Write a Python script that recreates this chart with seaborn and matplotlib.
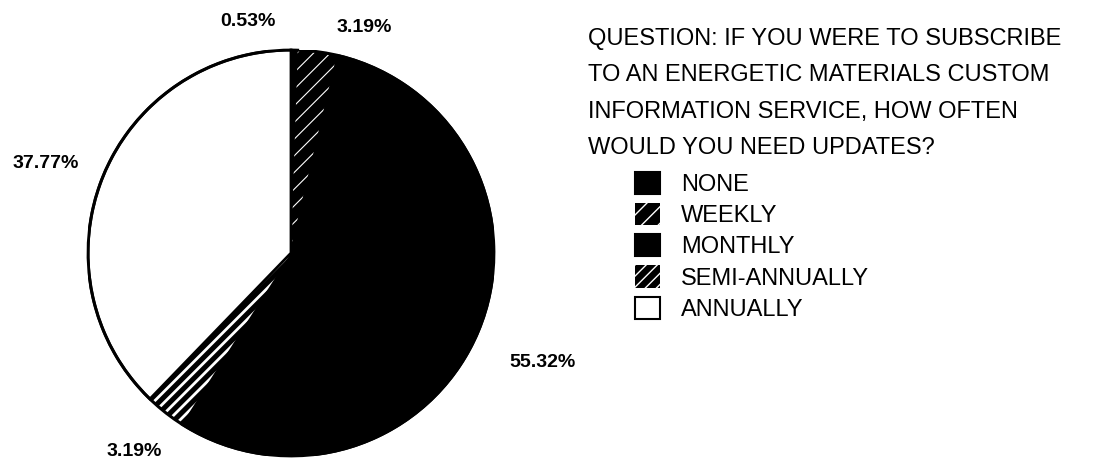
import matplotlib
matplotlib.use("Agg")
import matplotlib.pyplot as plt
import seaborn as sns
import numpy as np
from matplotlib.patches import Patch

sns.set_theme(style="white")
plt.rcParams['font.family'] = ['Liberation Sans', 'DejaVu Sans']
plt.rcParams['hatch.linewidth'] = 1.0
plt.rcParams['text.color'] = 'black'

categories = ["NONE", "WEEKLY", "MONTHLY", "SEMI-ANNUALLY", "ANNUALLY"]
values = [0.53, 3.19, 55.32, 3.19, 37.77]
pct_labels = ["0.53%", "3.19%", "55.32%", "3.19%", "37.77%"]
question = ("QUESTION: IF YOU WERE TO SUBSCRIBE\n"
            "TO AN ENERGETIC MATERIALS CUSTOM\n"
            "INFORMATION SERVICE, HOW OFTEN\n"
            "WOULD YOU NEED UPDATES?")

faces = ["black", "black", "black", "black", "white"]
hatches = [None, "//", None, "///", None]
hatch_lw = [None, 0.8, None, 2.0, None]
label_pos = [(-0.21, 1.14), (0.36, 1.11), (1.24, -0.54), (-0.77, -0.98), (-1.21, 0.44)]

W, H = 1094, 465
fig = plt.figure(figsize=(W / 100, H / 100), dpi=100)
cx, cy, r = 291, 253, 203
ax = fig.add_axes([(cx - r) / W, (H - cy - r) / H, 2 * r / W, 2 * r / H])

wedges, _ = ax.pie(values, startangle=90, counterclock=False, colors=faces,
                   wedgeprops=dict(linewidth=2, edgecolor="black"))
for w, h, lw in zip(wedges, hatches, hatch_lw):
    if h:
        w.set_hatch(h)
        w.set_edgecolor("white")
        w.set_linewidth(0)
        if hasattr(w, "set_hatch_linewidth"):
            w.set_hatch_linewidth(lw)
wedges[-1].set_zorder(5)
ax.add_patch(plt.Circle((0, 0), 1, fill=False, edgecolor="black", linewidth=2.2, zorder=6))
ax.set_xlim(-1, 1)
ax.set_ylim(-1, 1)
ax.set_aspect("equal")
ax.axis("off")

for txt, (x, y) in zip(pct_labels, label_pos):
    ax.text(x, y, txt, ha="center", va="center", fontsize=14, color="black",
            fontweight="bold", clip_on=False)

fig.text(588 / W, 1 - 28 / H, question, ha="left", va="top", fontsize=17,
         linespacing=1.85, color="black")

handles = []
for f, h, lw in zip(faces, hatches, hatch_lw):
    p = Patch(facecolor=f, edgecolor="white" if h else "black",
              hatch=h, linewidth=1.5 if not h else 0)
    handles.append(p)
leg = fig.legend(handles, categories, loc="upper left",
                 bbox_to_anchor=(635 / W, 1 - 172 / H), frameon=False,
                 fontsize=17, handlelength=1.06, handleheight=1.06,
                 labelspacing=0.3, handletextpad=0.9, borderpad=0,
                 borderaxespad=0, labelcolor="black")

fig.savefig("out.png", dpi=100, facecolor="white")
